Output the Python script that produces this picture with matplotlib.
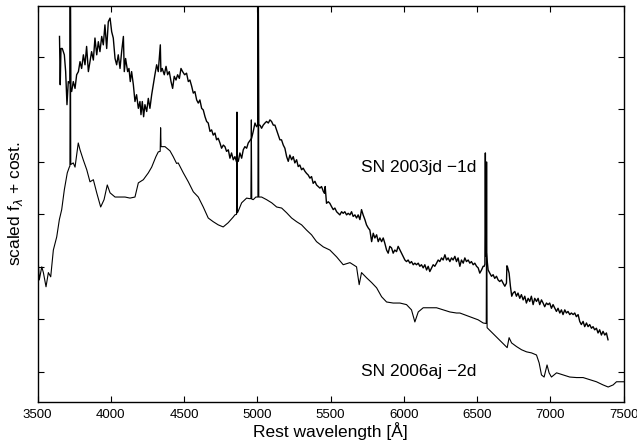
import matplotlib
matplotlib.use("Agg")
import matplotlib.pyplot as plt

plt.rcParams['font.family'] = ['Liberation Sans', 'DejaVu Sans']

# SN 2003jd -1d (upper spectrum)
wl_03jd = [3650, 3655, 3660, 3669, 3683, 3692, 3701, 3710, 3721, 3724, 3727, 3733, 3744, 3756,
           3767, 3779, 3790, 3801, 3813, 3824, 3835, 3847, 3858, 3869, 3881, 3892, 3904, 3915,
           3926, 3938, 3949, 3960, 3972, 3983, 3995, 4006, 4017, 4029, 4040, 4051, 4063, 4074,
           4086, 4092, 4101, 4115, 4124, 4133, 4142, 4154, 4165, 4176, 4188, 4199, 4206, 4215,
           4224, 4233, 4245, 4256, 4267, 4279, 4290, 4301, 4313, 4324, 4338, 4342, 4351, 4365,
           4377, 4388, 4399, 4411, 4422, 4433, 4445, 4456, 4468, 4479, 4490, 4504, 4517,
           4529, 4540, 4552, 4563, 4574, 4586, 4597, 4608, 4620, 4631, 4643, 4654, 4665, 4677,
           4688, 4699, 4711, 4722, 4733, 4745, 4756, 4768, 4779, 4790, 4802, 4813, 4824, 4836,
           4847, 4858, 4870, 4881, 4893, 4904, 4915, 4927, 4938, 4961, 4972, 4984, 4995, 5003,
           5006, 5009, 5018, 5029, 5040, 5052, 5063, 5075, 5086, 5097, 5109, 5120, 5131, 5143,
           5154, 5165, 5177, 5188, 5200, 5211, 5222, 5234, 5245, 5256, 5268, 5279, 5290, 5302,
           5313, 5325, 5336, 5347, 5359, 5370, 5381, 5393, 5404, 5416, 5427, 5438, 5450, 5458,
           5463, 5472, 5484, 5495, 5506, 5518, 5529, 5541, 5552, 5563, 5575, 5586, 5597, 5609,
           5620, 5632, 5643, 5654, 5666, 5677, 5688, 5700, 5711, 5722, 5734, 5745, 5757, 5768,
           5780, 5791, 5802, 5814, 5825, 5836, 5848, 5859, 5870, 5882, 5893, 5904, 5916, 5927,
           5938, 5950, 5961, 5973, 5984, 5995, 6007, 6018, 6029, 6041, 6052, 6064, 6075, 6086,
           6098, 6109, 6120, 6132, 6143, 6155, 6166, 6177, 6189, 6200, 6211, 6223, 6234, 6245,
           6257, 6268, 6280, 6291, 6302, 6314, 6325, 6336, 6348, 6359, 6370, 6382, 6393, 6405,
           6416, 6427, 6439, 6450, 6461, 6473, 6484, 6496, 6507, 6518, 6530, 6541, 6548, 6553,
           6556, 6559, 6563, 6575, 6586, 6598, 6609, 6620, 6632, 6643, 6654, 6666, 6677, 6689,
           6700, 6703, 6707, 6718, 6727, 6736, 6745, 6757, 6768, 6779, 6791, 6802, 6814, 6825,
           6836, 6848, 6859, 6870, 6882, 6893, 6905, 6916, 6927, 6939, 6950, 6961, 6973, 6984,
           6995, 7007, 7018, 7030, 7041, 7052, 7064, 7075, 7086, 7098, 7109, 7120, 7132, 7143,
           7155, 7166, 7177, 7189, 7200, 7211, 7223, 7234, 7246, 7257, 7268, 7280, 7291, 7302,
           7314, 7325, 7336, 7348, 7359, 7371, 7382, 7393]
fx_03jd = [6.39, 5.47, 6.16, 6.16, 6.04, 5.72, 5.09, 5.53, 5.50, 8.00, 5.40, 5.34, 5.53, 5.40,
           5.66, 5.72, 5.91, 5.78, 6.04, 5.85, 6.20, 5.72, 5.91, 6.10, 5.94, 6.36, 6.04, 6.29,
           6.10, 6.39, 6.23, 6.61, 6.16, 6.67, 6.74, 6.48, 6.36, 5.97, 5.85, 6.04, 5.78, 6.10,
           6.39, 5.72, 5.97, 5.72, 5.78, 5.53, 5.72, 5.47, 5.15, 5.28, 5.02, 5.15, 4.90, 5.15,
           4.86, 5.09, 4.96, 5.21, 5.02, 5.28, 5.47, 5.66, 5.85, 5.72, 6.23, 5.72, 5.78, 5.66,
           5.82, 5.66, 5.72, 5.53, 5.40, 5.63, 5.56, 5.66, 5.59, 5.78, 5.72, 5.66, 5.69,
           5.53, 5.56, 5.44, 5.31, 5.34, 5.18, 5.12, 5.18, 5.02, 4.99, 4.86, 4.77, 4.74, 4.58,
           4.61, 4.51, 4.55, 4.42, 4.45, 4.36, 4.26, 4.32, 4.29, 4.20, 4.23, 4.07, 4.17, 4.04,
           4.10, 4.00, 4.01, 4.17, 4.07, 4.23, 4.29, 4.26, 4.36, 4.45, 4.58, 4.74, 4.67, 4.70,
           8.00, 4.70, 4.70, 4.64, 4.70, 4.74, 4.77, 4.74, 4.80, 4.77, 4.70, 4.70, 4.61, 4.51,
           4.42, 4.42, 4.32, 4.26, 4.10, 4.01, 4.13, 4.04, 4.10, 3.98, 4.04, 3.91, 3.94, 3.85,
           3.88, 3.82, 3.78, 3.75, 3.69, 3.72, 3.59, 3.63, 3.56, 3.53, 3.50, 3.53, 3.44, 3.40,
           3.53, 3.21, 3.24, 3.21, 3.15, 3.09, 3.12, 3.05, 3.02, 2.99, 3.05, 3.02, 3.05, 2.99,
           3.02, 2.99, 3.05, 2.96, 2.99, 2.93, 2.99, 2.90, 3.09, 2.99, 2.90, 2.80, 2.74, 2.70,
           2.48, 2.64, 2.55, 2.61, 2.48, 2.55, 2.48, 2.55, 2.45, 2.32, 2.26, 2.39, 2.36, 2.26,
           2.32, 2.29, 2.39, 2.32, 2.26, 2.20, 2.13, 2.10, 2.13, 2.07, 2.10, 2.04, 2.07, 2.04,
           2.07, 2.01, 2.04, 1.98, 2.04, 1.94, 2.01, 1.91, 1.98, 2.04, 2.01, 2.07, 2.13, 2.10,
           2.17, 2.13, 2.23, 2.13, 2.17, 2.10, 2.17, 2.13, 2.20, 2.10, 2.17, 2.01, 2.13, 2.07,
           2.17, 2.10, 2.13, 2.07, 2.10, 2.04, 2.07, 2.01, 1.98, 1.88, 1.94, 2.01, 2.01, 2.05,
           4.17, 2.20, 2.26, 1.94, 1.88, 1.82, 1.85, 1.78, 1.82, 1.75, 1.72, 1.75, 1.69, 1.63,
           1.69, 2.02, 2.00, 1.88, 1.63, 1.44, 1.50, 1.53, 1.44, 1.50, 1.40, 1.47, 1.37, 1.44,
           1.31, 1.40, 1.34, 1.44, 1.28, 1.40, 1.34, 1.40, 1.28, 1.37, 1.31, 1.24, 1.31, 1.28,
           1.31, 1.21, 1.28, 1.21, 1.15, 1.21, 1.12, 1.18, 1.09, 1.18, 1.12, 1.15, 1.09, 1.12,
           1.09, 1.12, 1.05, 1.09, 0.96, 0.90, 0.96, 0.86, 0.93, 0.86, 0.90, 0.83, 0.86, 0.80,
           0.83, 0.74, 0.80, 0.70, 0.77, 0.70, 0.74, 0.61]

# SN 2006aj -2d (lower spectrum)
wl_06aj = [3500, 3512, 3529, 3540, 3558, 3574, 3590, 3608, 3631, 3649, 3665, 3683, 3703, 3717,
           3721, 3724, 3727, 3744, 3756, 3778, 3790, 3812, 3836, 3858, 3881, 3904, 3931, 3954,
           3976, 3995, 4029, 4063, 4097, 4131, 4165, 4188, 4222, 4256, 4279, 4308, 4324, 4337,
           4340, 4343, 4347, 4370, 4404, 4426, 4449, 4460, 4495, 4529, 4563, 4597, 4631, 4665,
           4699, 4733, 4767, 4801, 4836, 4847, 4858, 4861, 4864, 4868, 4893, 4927, 4945, 4956,
           4959, 4962, 4972, 4990, 5004, 5007, 5010, 5029, 5063, 5098, 5132, 5166, 5200, 5234,
           5268, 5302, 5336, 5370, 5404, 5450, 5495, 5541, 5586, 5632, 5677, 5695, 5711, 5746,
           5780, 5814, 5848, 5882, 5927, 5973, 6018, 6052, 6075, 6098, 6132, 6177, 6223, 6268,
           6314, 6359, 6382, 6450, 6507, 6541, 6562, 6565, 6568, 6705, 6718, 6735, 6769, 6803,
           6837, 6871, 6905, 6923, 6939, 6957, 6977, 6991, 7007, 7042, 7087, 7132, 7178, 7223,
           7269, 7314, 7359, 7394, 7428, 7451, 7473, 7500]
fx_06aj = [2.36, 1.75, 2.00, 1.89, 1.62, 1.89, 1.81, 2.32, 2.57, 2.90, 3.09, 3.47, 3.79, 3.90,
           3.92, 8.00, 3.95, 3.98, 3.90, 4.36, 4.23, 4.04, 3.85, 3.62, 3.66, 3.41, 3.14, 3.28,
           3.56, 3.41, 3.33, 3.33, 3.33, 3.31, 3.33, 3.60, 3.66, 3.79, 3.90, 4.10, 4.19, 4.20,
           4.65, 4.29, 4.29, 4.29, 4.21, 4.10, 3.97, 3.98, 3.79, 3.62, 3.43, 3.33, 3.14, 2.93,
           2.86, 2.80, 2.76, 2.84, 2.95, 2.99, 3.00, 4.95, 3.03, 3.05, 3.22, 3.31, 3.30, 3.30,
           4.80, 3.29, 3.28, 3.33, 3.33, 8.00, 3.33, 3.33, 3.28, 3.22, 3.14, 3.12, 3.03, 2.93,
           2.86, 2.80, 2.70, 2.61, 2.48, 2.38, 2.32, 2.19, 2.04, 2.08, 2.00, 1.66, 1.89, 1.79,
           1.70, 1.60, 1.43, 1.33, 1.31, 1.31, 1.28, 1.18, 0.95, 1.14, 1.22, 1.22, 1.22, 1.18,
           1.14, 1.12, 1.12, 1.05, 0.99, 0.93, 0.92, 4.00, 0.84, 0.46, 0.65, 0.55, 0.48, 0.42,
           0.38, 0.36, 0.32, 0.17, -0.06, -0.10, 0.13, -0.02, -0.10, -0.02, -0.06, -0.10, -0.11, -0.11,
           -0.15, -0.19, -0.25, -0.29, -0.25, -0.19, -0.19, -0.19]

x_ticks = [3500, 4000, 4500, 5000, 5500, 6000, 6500, 7000, 7500]
y_ticks = [0, 1, 2, 3, 4, 5, 6]
labels = ["SN 2003jd \u22121d", "SN 2006aj \u22122d"]
label_pos = [(6498, 3.89), (6498, 0.0)]

fig = plt.figure(figsize=(6.37, 4.45), dpi=100)
ax = fig.add_axes([0.0589, 0.0973, 0.9202, 0.8892])
ax.plot(wl_03jd, fx_03jd, color='black', lw=1.0)
ax.plot(wl_06aj, fx_06aj, color='black', lw=0.8)

ax.set_xlim(3500, 7500)
ax.set_ylim(-0.57, 6.97)
ax.set_xticks(x_ticks)
ax.set_xticklabels([str(t) for t in x_ticks], fontsize=9.5)
ax.set_yticks(y_ticks)
ax.set_yticklabels([])
ax.tick_params(direction='in', top=True, right=True, length=4, width=0.8, pad=5)
for s in ax.spines.values():
    s.set_linewidth(1.0)

for txt, (xx, yy) in zip(labels, label_pos):
    ax.text(xx, yy, txt, ha='right', va='center', fontsize=12.5)

ax.set_xlabel("Rest wavelength [\u00c5]", fontsize=12.5, labelpad=1)
ax.set_ylabel(r"scaled f$_\lambda$ + cost.", fontsize=12.5, labelpad=4)

fig.savefig("out.png", dpi=100)
